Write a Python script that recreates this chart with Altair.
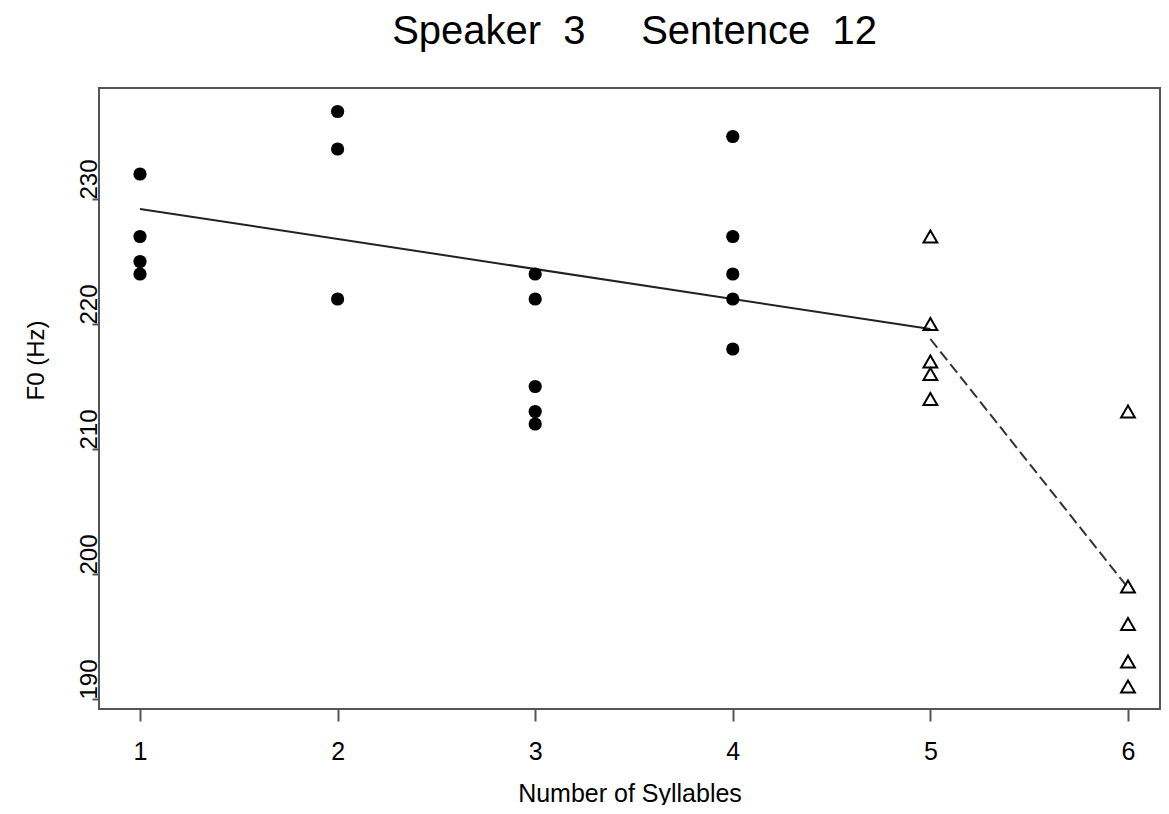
import altair as alt
import pandas as pd

# ---- data ----
syll_filled = [1, 1, 1, 1, 2, 2, 2, 3, 3, 3, 3, 3, 4, 4, 4, 4, 4]
f0_filled = [232, 227, 225, 224, 237, 234, 222, 224, 222, 215, 213, 212,
             235, 227, 224, 222, 218]
syll_open = [5, 5, 5, 5, 5, 6, 6, 6, 6, 6]
f0_open = [227, 220, 217, 216, 214, 213, 199, 196, 193, 191]
solid_x = [1, 5]
solid_y = [229.2, 219.6]
dash_x = [5, 6]
dash_y = [218.8, 198.9]
x_ticks = [1, 2, 3, 4, 5, 6]
y_ticks = [190, 200, 210, 220, 230]
title_text = "Speaker\u00a0\u00a03\u00a0\u00a0\u00a0\u00a0\u00a0Sentence\u00a0\u00a012"

FONT = "Liberation Sans"

filled_df = pd.DataFrame({"syll": syll_filled, "f0": f0_filled})
open_df = pd.DataFrame({"syll": syll_open, "f0": f0_open})
solid_df = pd.DataFrame({"syll": solid_x, "f0": solid_y})
dash_df = pd.DataFrame({"syll": dash_x, "f0": dash_y})

xscale = alt.Scale(domain=[0.7925, 6.162], nice=False, zero=False)
yscale = alt.Scale(domain=[189.2, 238.88], nice=False, zero=False)

xaxis = alt.Axis(values=x_ticks, format="d", title="Number of Syllables", grid=False, domain=False,
                 labelFontSize=25, labelFont=FONT, labelColor="black",
                 labelBaseline="alphabetic", labelPadding=38, labelFlush=False,
                 tickSize=12, tickColor="#555", tickWidth=2,
                 titleFontSize=25, titleFont=FONT, titleFontWeight="normal",
                 titleColor="black", titleBaseline="alphabetic", titleY=92)
yaxis = alt.Axis(values=y_ticks, format="d", title="F0 (Hz)", grid=False, domain=False,
                 labelFontSize=24, labelFont=FONT, labelColor="black",
                 labelAngle=270, labelAlign="left", labelBaseline="alphabetic",
                 labelPadding=-4, labelFlush=False,
                 tickSize=7, tickColor="#555", tickWidth=2,
                 titleFontSize=24, titleFont=FONT, titleFontWeight="normal",
                 titleColor="black", titleAngle=270, titleAlign="left",
                 titleBaseline="alphabetic", titleX=-56, titleY=312)

x_enc = alt.X("syll:Q", scale=xscale, axis=xaxis)
y_enc = alt.Y("f0:Q", scale=yscale, axis=yaxis)

circles = alt.Chart(filled_df).mark_point(
    shape="circle", filled=True, size=175, color="black", opacity=1
).encode(x=x_enc, y=y_enc)

triangles = alt.Chart(open_df).mark_point(
    shape="triangle-up", filled=False, size=190, color="black", strokeWidth=2, opacity=1
).encode(x=alt.X("syll:Q", scale=xscale), y=alt.Y("f0:Q", scale=yscale))

solid = alt.Chart(solid_df).mark_line(color="#222", strokeWidth=2).encode(
    x=alt.X("syll:Q", scale=xscale), y=alt.Y("f0:Q", scale=yscale))

dashed = alt.Chart(dash_df).mark_line(color="#333", strokeWidth=2, strokeDash=[11, 5]).encode(
    x=alt.X("syll:Q", scale=xscale), y=alt.Y("f0:Q", scale=yscale))

chart = alt.layer(solid, dashed, circles, triangles).properties(
    width=1061, height=621,
    padding={"left": 91, "top": 80, "right": 1, "bottom": 96},
    autosize=alt.AutoSizeParams(type="none"),
    background="white",
    title=alt.Title(title_text, fontSize=40, font=FONT, fontWeight="normal",
                    color="black", anchor="middle", frame="group",
                    baseline="alphabetic", offset=4, dx=5),
).configure_view(stroke="#555", strokeWidth=2)

chart.save("out.html", embed_options={"renderer": "svg", "actions": False})
